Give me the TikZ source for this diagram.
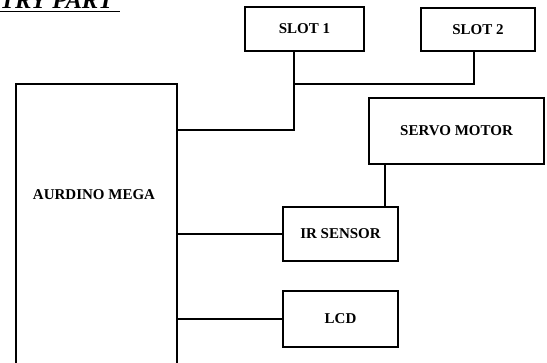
\documentclass[tikz,border=0pt]{standalone}
\usepackage{fontspec}
\setmainfont{Liberation Serif}
\begin{document}
\begin{tikzpicture}[x=1pt,y=-1pt,
  blk/.style={draw, line width=1.8pt, rectangle, inner sep=0pt, font=\bfseries\fontsize{15}{18}\selectfont},
  wire/.style={line width=1.8pt}]
\useasboundingbox (0,0) rectangle (547,362);
\clip (0,0) rectangle (547,362);
% title
\node[anchor=base west, inner sep=0pt, font=\bfseries\itshape\fontsize{24.6}{28}\selectfont] (title) at (0,8.5) {TRY PART};
\draw[line width=1.4pt] (title.base west) ++(0,3.2) -- ++(120,0);
% blocks
\node[blk, minimum width=161, minimum height=296] (mega) at (96.5,232) {};
\node[font=\bfseries\fontsize{15}{18}\selectfont, inner sep=0pt] (megatext) at (94,195) {AURDINO MEGA};
\node[blk, minimum width=119, minimum height=44] (slot1) at (304.5,29) {SLOT 1};
\node[blk, minimum width=114, minimum height=43] (slot2) at (478,29.5) {SLOT 2};
\node[blk, minimum width=175, minimum height=66] (servo) at (456.5,131) {SERVO MOTOR};
\node[blk, minimum width=115, minimum height=54] (ir) at (340.5,234) {IR SENSOR};
\node[blk, minimum width=115, minimum height=56] (lcd) at (340.5,319) {LCD};
% junctions
\coordinate (j1) at (294,130);
\coordinate (j2) at (294,84);
\coordinate (j3) at (474,84);
\coordinate (j4) at (385,0);
% wires
\draw[wire] (slot1.south -| j1) -- (j1) -- (j1 -| mega.east);
\draw[wire] (j2) -- (j3) -- (j3 |- slot2.south);
\draw[wire] (servo.south -| j4) -- (ir.north -| j4);
\draw[wire] (mega.east |- ir.west) -- (ir.west);
\draw[wire] (mega.east |- lcd.west) -- (lcd.west);
\end{tikzpicture}
\end{document}
